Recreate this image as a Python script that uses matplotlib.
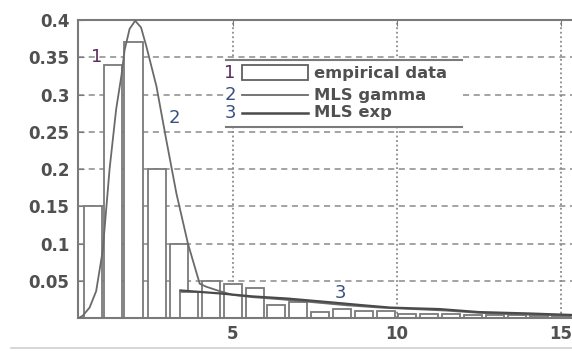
import matplotlib
matplotlib.use("Agg")
import matplotlib.pyplot as plt
from matplotlib.patches import Rectangle
from matplotlib.lines import Line2D

# --- data ---
bar_centers = [0.72, 1.33, 1.97, 2.69, 3.35, 3.67, 4.34, 5.0, 5.67, 6.33,
               7.0, 7.66, 8.33, 9.0, 9.66, 10.33, 11.0, 11.66, 12.33, 13.0,
               13.66, 14.33, 15.0]
bar_heights = [0.15, 0.34, 0.37, 0.2, 0.1, 0.035, 0.05, 0.045, 0.04, 0.018,
               0.021, 0.008, 0.012, 0.01, 0.01, 0.006, 0.005, 0.005, 0.004,
               0.004, 0.004, 0.003, 0.003]

gamma_x = [0.3, 0.42, 0.63, 0.83, 1.03, 1.24, 1.44, 1.6, 1.7, 1.85, 2.02,
           2.2, 2.36, 2.67, 2.97, 3.28, 3.63, 3.99, 4.19, 4.6, 5.0, 5.6,
           6.5, 7.5, 8.5, 9.5, 10.5, 11.5, 12.5, 13.5, 14.5, 15.4]
gamma_y = [0.0, 0.003, 0.014, 0.036, 0.09, 0.2, 0.28, 0.325, 0.36, 0.388,
           0.399, 0.39, 0.365, 0.311, 0.239, 0.167, 0.1, 0.046, 0.042,
           0.036, 0.031, 0.028, 0.025, 0.021, 0.017, 0.014, 0.012, 0.01,
           0.007, 0.005, 0.004, 0.003]

exp_x = [3.4, 4.0, 4.6, 5.6, 6.7, 8.0, 9.0, 9.8, 10.5, 11.3, 12.5, 14.1, 15.4]
exp_y = [0.037, 0.035, 0.033, 0.029, 0.026, 0.021, 0.017, 0.014, 0.013,
         0.012, 0.008, 0.006, 0.004]

yticks = [0.05, 0.1, 0.15, 0.2, 0.25, 0.3, 0.35, 0.4]
ytick_labels = ["0.05", "0.1", "0.15", "0.2", "0.25", "0.3", "0.35", "0.4"]
xticks = [5, 10, 15]
legend_labels = ["empirical data", "MLS gamma", "MLS exp"]

GRAY = "#7a7a7a"
TXT = "#505050"

fig = plt.figure(figsize=(5.72, 3.51), dpi=100)
ax = fig.add_axes([0.136, 0.094, 0.864, 0.849])

ax.bar(bar_centers, bar_heights, width=0.55, facecolor="white",
       edgecolor=GRAY, linewidth=1.3, zorder=2)
ax.plot(gamma_x, gamma_y, color="#6a6a6a", lw=1.3, zorder=3)
ax.plot(exp_x, exp_y, color="#4a4a4a", lw=1.6, zorder=3)

ax.set_xlim(0.27, 15.35)
ax.set_ylim(0, 0.4)
ax.set_xticks(xticks)
ax.set_xticklabels([str(t) for t in xticks])
ax.set_yticks(yticks)
ax.set_yticklabels(ytick_labels)

# matlab-ish grid: dashed horizontals, dotted verticals
for y in yticks[:-1]:
    ax.axhline(y, color="#8a8a8a", lw=1.1, ls=(0, (4, 3)), zorder=1)
for x in xticks:
    ax.axvline(x, color="#8a8a8a", lw=1.3, ls=(0, (1, 1.5)), zorder=1)

for side in ["left", "bottom", "top"]:
    ax.spines[side].set_color(GRAY)
    ax.spines[side].set_linewidth(1.5)
ax.spines["right"].set_visible(False)
ax.tick_params(direction="in", length=4, color=GRAY, top=True,
               labelsize=12, labelcolor=TXT)
ax.tick_params(axis="y", pad=6)
ax.tick_params(axis="x", pad=5)
for lab in ax.get_xticklabels() + ax.get_yticklabels():
    lab.set_fontweight("bold")

# curve numbers
ax.text(0.84, 0.35, "1", color="#5b2b5f", fontsize=13, ha="center", va="center", zorder=4)
ax.text(3.23, 0.269, "2", color="#3a4f80", fontsize=13, ha="center", va="center", zorder=4)
ax.text(8.27, 0.034, "3", color="#3a4f80", fontsize=13, ha="center", va="center", zorder=4)

# legend drawn by hand (white box, top/bottom rule only, numbered entries)
ax.add_patch(Rectangle((0.30, 0.641), 0.477, 0.225, transform=ax.transAxes,
                       facecolor="white", edgecolor="none", zorder=4.5))
ax.add_line(Line2D([0.30, 0.777], [0.866, 0.866], transform=ax.transAxes,
                   color=GRAY, lw=1.5, zorder=5))
ax.add_line(Line2D([0.30, 0.777], [0.641, 0.641], transform=ax.transAxes,
                   color=GRAY, lw=1.5, zorder=5))
ax.add_patch(Rectangle((0.332, 0.799), 0.134, 0.05, transform=ax.transAxes,
                       facecolor="white", edgecolor="#606060", lw=1.3, zorder=5))
ax.add_line(Line2D([0.332, 0.466], [0.748, 0.748], transform=ax.transAxes,
                   color="#6a6a6a", lw=1.3, zorder=5))
ax.add_line(Line2D([0.332, 0.466], [0.688, 0.688], transform=ax.transAxes,
                   color="#4a4a4a", lw=1.8, zorder=5))
num_colors = ["#5b2b5f", "#3a4f80", "#3a4f80"]
for i, (lab, yy) in enumerate(zip(legend_labels, [0.822, 0.748, 0.688])):
    ax.text(0.308, yy, str(i + 1), transform=ax.transAxes, color=num_colors[i],
            fontsize=13, ha="center", va="center", zorder=5)
    ax.text(0.478, yy, lab, transform=ax.transAxes, color=TXT, fontsize=11.8,
            fontweight="bold", ha="left", va="center", zorder=5)

# faint rule at the bottom of the figure
fig.add_artist(Line2D([0.02, 1.0], [0.008, 0.008], color="#d0d0d0", lw=1.2))

fig.savefig("out.png", dpi=100)
